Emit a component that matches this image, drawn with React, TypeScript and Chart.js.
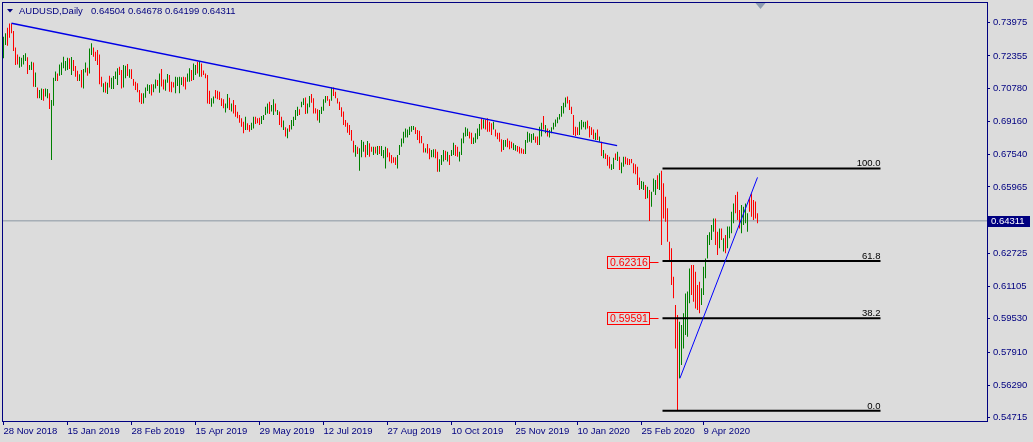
import React, { useEffect, useRef } from "react";
import { Chart, registerables } from "chart.js";

Chart.register(...registerables);

const W = 1033;
const H = 442;
const BG = "#dcdcdc";
const NAVY = "#000080";
const UP = "#008000";
const DOWN = "#ff0000";
const FONT = "'Liberation Sans', Arial, sans-serif";

// Daily AUDUSD bars (index 0 = 28 Nov 2018)
const highs = [
  0.7329, 0.7346, 0.7373, 0.7394, 0.7394, 0.7357, 0.7276, 0.7243, 0.7232, 0.7227,
  0.7240, 0.7248, 0.7229, 0.7191, 0.7207, 0.7203, 0.7155, 0.7081, 0.7069, 0.7077,
  0.7074, 0.7077, 0.7074, 0.7053, 0.7020, 0.7129, 0.7159, 0.7150, 0.7194, 0.7203,
  0.7232, 0.7211, 0.7227, 0.7224, 0.7230, 0.7216, 0.7186, 0.7163, 0.7146, 0.7167,
  0.7172, 0.7204, 0.7178, 0.7272, 0.7297, 0.7276, 0.7256, 0.7264, 0.7243, 0.7134,
  0.7102, 0.7110, 0.7105, 0.7139, 0.7129, 0.7137, 0.7159, 0.7175, 0.7183, 0.7167,
  0.7191, 0.7188, 0.7196, 0.7170, 0.7170, 0.7123, 0.7110, 0.7102, 0.7069, 0.7053,
  0.7053, 0.7081, 0.7097, 0.7094, 0.7097, 0.7097, 0.7121, 0.7118, 0.7150, 0.7172,
  0.7121, 0.7121, 0.7147, 0.7142, 0.7110, 0.7107, 0.7134, 0.7131, 0.7134, 0.7131,
  0.7134, 0.7131, 0.7150, 0.7175, 0.7167, 0.7199, 0.7191, 0.7207, 0.7207, 0.7199,
  0.7164, 0.7150, 0.7142, 0.7066, 0.7029, 0.7037, 0.7069, 0.7066, 0.7061, 0.7029,
  0.7024, 0.7004, 0.7050, 0.7032, 0.7004, 0.7020, 0.6996, 0.6963, 0.6947, 0.6931,
  0.6915, 0.6939, 0.6907, 0.6899, 0.6910, 0.6939, 0.6939, 0.6931, 0.6934, 0.6942,
  0.6947, 0.6988, 0.7004, 0.7012, 0.6996, 0.7024, 0.7004, 0.6972, 0.6964, 0.6939,
  0.6920, 0.6887, 0.6882, 0.6899, 0.6923, 0.6939, 0.6972, 0.6988, 0.6975, 0.7012,
  0.7029, 0.7033, 0.7004, 0.7040, 0.7050, 0.7029, 0.6980, 0.6975, 0.6972, 0.6988,
  0.7024, 0.7040, 0.7040, 0.7024, 0.7082, 0.7082, 0.7061, 0.7029, 0.7012, 0.6985,
  0.6964, 0.6923, 0.6910, 0.6899, 0.6874, 0.6822, 0.6801, 0.6793, 0.6785, 0.6825,
  0.6817, 0.6801, 0.6820, 0.6809, 0.6793, 0.6793, 0.6793, 0.6796, 0.6796, 0.6796,
  0.6777, 0.6793, 0.6785, 0.6764, 0.6752, 0.6741, 0.6741, 0.6752, 0.6801, 0.6833,
  0.6866, 0.6882, 0.6877, 0.6890, 0.6894, 0.6894, 0.6887, 0.6874, 0.6871, 0.6845,
  0.6809, 0.6785, 0.6806, 0.6785, 0.6777, 0.6780, 0.6780, 0.6768, 0.6731, 0.6752,
  0.6777, 0.6773, 0.6768, 0.6752, 0.6777, 0.6812, 0.6801, 0.6793, 0.6768, 0.6833,
  0.6861, 0.6887, 0.6882, 0.6866, 0.6861, 0.6837, 0.6858, 0.6882, 0.6903, 0.6931,
  0.6926, 0.6926, 0.6931, 0.6915, 0.6907, 0.6915, 0.6877, 0.6861, 0.6861, 0.6829,
  0.6825, 0.6825, 0.6833, 0.6822, 0.6817, 0.6809, 0.6801, 0.6796, 0.6793, 0.6785,
  0.6780, 0.6825, 0.6866, 0.6858, 0.6855, 0.6858, 0.6842, 0.6842, 0.6890, 0.6910,
  0.6942, 0.6899, 0.6882, 0.6874, 0.6887, 0.6910, 0.6926, 0.6936, 0.6952, 0.6991,
  0.7007, 0.7033, 0.7037, 0.7020, 0.6988, 0.6947, 0.6890, 0.6887, 0.6915, 0.6923,
  0.6915, 0.6915, 0.6920, 0.6894, 0.6887, 0.6877, 0.6861, 0.6877, 0.6842, 0.6817,
  0.6777, 0.6760, 0.6752, 0.6744, 0.6707, 0.6739, 0.6760, 0.6768, 0.6744, 0.6716,
  0.6744, 0.6744, 0.6736, 0.6733, 0.6733, 0.6712, 0.6707, 0.6695, 0.6642, 0.6625,
  0.6622, 0.6606, 0.6598, 0.6581, 0.6573, 0.6638, 0.6630, 0.6654, 0.6663, 0.6676,
  0.6614, 0.6549, 0.6492, 0.6329, 0.6297, 0.6159, 0.6021, 0.5972, 0.5939, 0.5923,
  0.5980, 0.6077, 0.6086, 0.6199, 0.6216, 0.6216, 0.6183, 0.6118, 0.6134, 0.6102,
  0.6207, 0.6248, 0.6362, 0.6375, 0.6411, 0.6443, 0.6443, 0.6378, 0.6394, 0.6394,
  0.6346, 0.6362, 0.6403, 0.6403, 0.6476, 0.6516, 0.6557, 0.6573, 0.6484, 0.6508,
  0.6500, 0.6516, 0.6468, 0.6541, 0.6565, 0.6533, 0.6525, 0.64678,
];

const lows = [
  0.7224, 0.7289, 0.7285, 0.7324, 0.7346, 0.7259, 0.7191, 0.7194, 0.7178, 0.7183,
  0.7194, 0.7211, 0.7147, 0.7167, 0.7167, 0.7085, 0.7084, 0.7029, 0.7029, 0.7020,
  0.7017, 0.7037, 0.7029, 0.6977, 0.6728, 0.6993, 0.7113, 0.7113, 0.7139, 0.7142,
  0.7175, 0.7163, 0.7167, 0.7172, 0.7142, 0.7162, 0.7134, 0.7113, 0.7113, 0.7081,
  0.7076, 0.7155, 0.7139, 0.7150, 0.7240, 0.7232, 0.7211, 0.7191, 0.7097, 0.7085,
  0.7058, 0.7056, 0.7050, 0.7081, 0.7074, 0.7074, 0.7123, 0.7094, 0.7142, 0.7077,
  0.7081, 0.7126, 0.7137, 0.7129, 0.7123, 0.7090, 0.7069, 0.7058, 0.7009, 0.7001,
  0.7004, 0.7032, 0.7064, 0.7051, 0.7042, 0.7058, 0.7077, 0.7089, 0.7056, 0.7086,
  0.7072, 0.7066, 0.7105, 0.7061, 0.7058, 0.7082, 0.7053, 0.7089, 0.7053, 0.7094,
  0.7086, 0.7072, 0.7110, 0.7110, 0.7113, 0.7118, 0.7142, 0.7150, 0.7134, 0.7134,
  0.7142, 0.7126, 0.7004, 0.7001, 0.6988, 0.7004, 0.7029, 0.7024, 0.7020, 0.6991,
  0.6980, 0.6959, 0.6980, 0.6972, 0.6964, 0.6955, 0.6939, 0.6931, 0.6910, 0.6890,
  0.6858, 0.6874, 0.6874, 0.6866, 0.6874, 0.6882, 0.6903, 0.6907, 0.6899, 0.6903,
  0.6923, 0.6947, 0.6955, 0.6952, 0.6964, 0.6947, 0.6964, 0.6947, 0.6899, 0.6887,
  0.6874, 0.6842, 0.6834, 0.6866, 0.6877, 0.6894, 0.6923, 0.6942, 0.6947, 0.6985,
  0.6996, 0.6952, 0.6955, 0.6985, 0.7007, 0.6955, 0.6955, 0.6920, 0.6910, 0.6952,
  0.6968, 0.7007, 0.7017, 0.6991, 0.7017, 0.7040, 0.7029, 0.7004, 0.6972, 0.6939,
  0.6898, 0.6890, 0.6861, 0.6850, 0.6822, 0.6764, 0.6744, 0.6757, 0.6676, 0.6741,
  0.6768, 0.6741, 0.6752, 0.6744, 0.6768, 0.6752, 0.6760, 0.6752, 0.6757, 0.6747,
  0.6736, 0.6687, 0.6741, 0.6720, 0.6712, 0.6715, 0.6703, 0.6687, 0.6752, 0.6793,
  0.6809, 0.6838, 0.6838, 0.6850, 0.6866, 0.6874, 0.6855, 0.6825, 0.6809, 0.6809,
  0.6764, 0.6764, 0.6760, 0.6731, 0.6741, 0.6741, 0.6736, 0.6671, 0.6671, 0.6703,
  0.6720, 0.6728, 0.6720, 0.6703, 0.6747, 0.6752, 0.6747, 0.6744, 0.6720, 0.6752,
  0.6809, 0.6842, 0.6845, 0.6833, 0.6806, 0.6806, 0.6812, 0.6829, 0.6845, 0.6877,
  0.6882, 0.6877, 0.6866, 0.6866, 0.6850, 0.6877, 0.6842, 0.6829, 0.6817, 0.6768,
  0.6777, 0.6793, 0.6790, 0.6780, 0.6785, 0.6777, 0.6773, 0.6768, 0.6760, 0.6760,
  0.6757, 0.6757, 0.6812, 0.6817, 0.6812, 0.6825, 0.6812, 0.6801, 0.6801, 0.6842,
  0.6877, 0.6858, 0.6842, 0.6838, 0.6858, 0.6877, 0.6890, 0.6907, 0.6926, 0.6939,
  0.6955, 0.6985, 0.7004, 0.6972, 0.6952, 0.6850, 0.6845, 0.6850, 0.6850, 0.6877,
  0.6887, 0.6877, 0.6882, 0.6838, 0.6850, 0.6829, 0.6825, 0.6825, 0.6817, 0.6747,
  0.6736, 0.6733, 0.6700, 0.6687, 0.6679, 0.6684, 0.6728, 0.6723, 0.6679, 0.6663,
  0.6695, 0.6707, 0.6703, 0.6703, 0.6712, 0.6663, 0.6658, 0.6606, 0.6581, 0.6586,
  0.6581, 0.6538, 0.6541, 0.6430, 0.6500, 0.6573, 0.6557, 0.6586, 0.6581, 0.6313,
  0.6443, 0.6427, 0.6329, 0.6232, 0.6118, 0.6053, 0.5809, 0.5508, 0.5663, 0.5728,
  0.5809, 0.5874, 0.5866, 0.6029, 0.6069, 0.6037, 0.6004, 0.5996, 0.5980, 0.6021,
  0.6069, 0.6151, 0.6248, 0.6313, 0.6338, 0.6378, 0.6313, 0.6264, 0.6297, 0.6338,
  0.6281, 0.6273, 0.6297, 0.6346, 0.6370, 0.6419, 0.6468, 0.6435, 0.6394, 0.6370,
  0.6411, 0.6419, 0.6378, 0.6476, 0.6451, 0.6435, 0.6443, 0.64199,
];

// G = bull bar (close > open), R = bear bar
const barDirection = [
  "GGRRRRRRGG", "GGRGGRGRGG", "RGGRGGGRGG", "GGGRGRRRGR", "GGRGGRRRRR",
  "GRGRGGGGRR", "GGRGRRRRRR", "GGGGRGGRGR", "RGGRRRGGGG", "RRGGRGGRGR",
  "RRRRGGRRRR", "RGGRGRRRRR", "RGRRGGRRRG", "GGGRGGRGRR", "GRGRGGGGRG",
  "GRGGRRRRGG", "GGRRGRRRRR", "RRRRRRGRGG", "GRGRRGRGRG", "GGRRRRRGGG",
  "GGGGGGRRRR", "RGRRGGRRGG", "GRGRGGRRGG", "GGGRRGGGGR", "GRRRRGRRRR",
  "GGRRRGGRRR", "RGGGGGRRGG", "RGRGGGGGGG", "GGRRRRRRGG", "GGRRRRGRGR",
  "GRRRGGRGRG", "GRRRRRRRRG", "GRGRGGGRGR", "RRRRRRRRGG", "GGGGRRRRRG",
  "GGGGGGRRGR", "GRGGGGRRRG", "GGGRRRRR",
].join("");

const xTickIndex = [0, 32, 64, 96, 128, 160, 192, 224, 256, 287, 319, 350];
const xTickLabels = [
  "28 Nov 2018", "15 Jan 2019", "28 Feb 2019", "15 Apr 2019", "29 May 2019", "12 Jul 2019",
  "27 Aug 2019", "10 Oct 2019", "25 Nov 2019", "10 Jan 2020", "25 Feb 2020", "9 Apr 2020",
];
const yTickValues = [
  0.73975, 0.72355, 0.7078, 0.6916, 0.6754, 0.65965, 0.62725, 0.61105, 0.5953, 0.5791,
  0.5629, 0.54715,
];
const yMin = 0.54549;
const yMax = 0.74936;
const xMin = -0.25;
const xMax = 491.75;

const titleSymbol = "AUDUSD,Daily";
const titleOHLC = "0.64504 0.64678 0.64199 0.64311";
const currentPrice = 0.64311;

const trendDown = [
  { x: 4, y: 0.7395 },
  { x: 306.8, y: 0.6798 },
];
const trendUp = [
  { x: 338.2, y: 0.5663 },
  { x: 377, y: 0.6643 },
];

const fibHigh = 0.6687;
const fibLow = 0.5505;
const fibLevels = [100.0, 61.8, 38.2, 0.0];
const fibStart = 329.5;
const fibEnd = 438.5;

const priceTags = [
  { text: "0.62316", value: 0.62316 },
  { text: "0.59591", value: 0.59591 },
];

const zeroPadding = (s: any) => {
  s.paddingTop = 0;
  s.paddingBottom = 0;
  s.paddingLeft = 0;
  s.paddingRight = 0;
};

export default function App() {
  const ref = useRef<HTMLCanvasElement>(null);

  useEffect(() => {
    document.body.style.margin = "0";
    document.body.style.background = BG;
    const canvas = ref.current;
    if (!canvas) return;

    const bars = highs.map((h, i) => ({ x: i, y: [lows[i], h] }));
    const colors = highs.map((_, i) => (barDirection[i] === "G" ? UP : DOWN));
    const fibValues = fibLevels.map((l) => fibLow + ((fibHigh - fibLow) * l) / 100);

    const lineBase = {
      type: "line" as const,
      pointRadius: 0,
      pointHoverRadius: 0,
      fill: false,
      tension: 0,
    };

    const datasets: any[] = [
      {
        ...lineBase,
        data: [
          { x: xMin, y: currentPrice },
          { x: xMax, y: currentPrice },
        ],
        borderColor: "#8a96a2",
        borderWidth: 1,
        order: 5,
      },
      {
        type: "bar",
        data: bars,
        backgroundColor: colors,
        borderWidth: 0,
        barThickness: 1,
        inflateAmount: 0,
        order: 3,
      },
      ...fibValues.map((v) => ({
        ...lineBase,
        data: [
          { x: fibStart, y: v },
          { x: fibEnd, y: v },
        ],
        borderColor: "#000000",
        borderWidth: 2,
        order: 2,
      })),
      {
        ...lineBase,
        data: trendDown,
        borderColor: "#0000e6",
        borderWidth: 1.5,
        order: 1,
      },
      {
        ...lineBase,
        data: trendUp,
        borderColor: "#0000ff",
        borderWidth: 1,
        order: 1,
      },
    ];

    const overlay = {
      id: "overlay",
      beforeDraw(chart: any) {
        const ctx = chart.ctx;
        ctx.save();
        ctx.fillStyle = BG;
        ctx.fillRect(0, 0, chart.width, chart.height);
        ctx.restore();
      },
      afterDraw(chart: any) {
        const ctx = chart.ctx;
        const a = chart.chartArea;
        const xs = chart.scales.x;
        const ys = chart.scales.y;
        ctx.save();

        // frame
        ctx.strokeStyle = NAVY;
        ctx.lineWidth = 1;
        ctx.strokeRect(a.left - 0.5, a.top - 0.5, a.right - a.left + 1, a.bottom - a.top + 1);

        // title
        ctx.fillStyle = NAVY;
        ctx.beginPath();
        ctx.moveTo(7, 9);
        ctx.lineTo(13, 9);
        ctx.lineTo(10, 12.5);
        ctx.closePath();
        ctx.fill();
        ctx.font = `9.5px ${FONT}`;
        ctx.textBaseline = "alphabetic";
        ctx.textAlign = "left";
        ctx.fillText(titleSymbol, 19, 14);
        ctx.fillText(titleOHLC, 91, 14);

        // fibo level texts
        ctx.fillStyle = "#000000";
        ctx.textAlign = "right";
        const xe = xs.getPixelForValue(fibEnd);
        fibValues.forEach((v, i) => {
          const y = ys.getPixelForValue(v);
          ctx.fillText(fibLevels[i].toFixed(1), xe, y - 2);
        });

        // red price tags
        const xsStart = xs.getPixelForValue(fibStart);
        ctx.font = `10.5px ${FONT}`;
        ctx.textAlign = "left";
        ctx.textBaseline = "middle";
        priceTags.forEach((t) => {
          const y = Math.round(ys.getPixelForValue(t.value)) + 0.5;
          const right = Math.round(xsStart - 14) + 0.5;
          const tw = ctx.measureText(t.text).width;
          const left = Math.round(right - tw - 5) + 0.5;
          ctx.fillStyle = BG;
          ctx.fillRect(left, y - 6, right - left, 12);
          ctx.strokeStyle = DOWN;
          ctx.lineWidth = 1;
          ctx.strokeRect(left, y - 6, right - left, 12);
          ctx.beginPath();
          ctx.moveTo(right, y);
          ctx.lineTo(right + 9, y);
          ctx.stroke();
          ctx.fillStyle = DOWN;
          ctx.fillText(t.text, left + 2.5, y + 0.5);
        });

        // current price tag on the axis
        const yp = ys.getPixelForValue(currentPrice);
        ctx.fillStyle = NAVY;
        ctx.fillRect(a.right + 1, Math.round(yp) - 5, 42, 11);
        ctx.fillStyle = "#ffffff";
        ctx.font = `9.5px ${FONT}`;
        ctx.fillText(currentPrice.toFixed(5), a.right + 4, Math.round(yp) + 0.5);

        // chart shift marker
        const xm = xs.getPixelForValue(378.5);
        ctx.fillStyle = "#8c9cb0";
        ctx.beginPath();
        ctx.moveTo(xm - 5, a.top);
        ctx.lineTo(xm + 5, a.top);
        ctx.lineTo(xm, a.top + 6);
        ctx.closePath();
        ctx.fill();

        ctx.restore();
      },
    };

    const chart = new Chart(canvas, {
      type: "bar",
      data: { datasets },
      options: {
        animation: false,
        responsive: false,
        devicePixelRatio: 1,
        events: [],
        layout: { padding: { left: 3, top: 3, right: 0, bottom: 0 } },
        plugins: {
          legend: { display: false },
          tooltip: { enabled: false },
        },
        scales: {
          x: {
            type: "linear",
            position: "bottom",
            min: xMin,
            max: xMax,
            offset: false,
            border: { display: false },
            grid: {
              offset: false,
              drawOnChartArea: false,
              drawTicks: true,
              tickLength: 4,
              color: NAVY,
            },
            ticks: {
              autoSkip: false,
              maxRotation: 0,
              minRotation: 0,
              align: "start",
              padding: 1,
              color: NAVY,
              font: { family: FONT, size: 9.5 },
              callback: (_v: any, i: number) => xTickLabels[i],
            },
            afterBuildTicks: (s: any) => {
              s.ticks = xTickIndex.map((v) => ({ value: v }));
            },
            afterFit: (s: any) => {
              s.height = 21;
              zeroPadding(s);
            },
          },
          y: {
            type: "linear",
            position: "right",
            min: yMin,
            max: yMax,
            border: { display: false },
            grid: {
              drawOnChartArea: false,
              drawTicks: true,
              tickLength: 3,
              color: NAVY,
            },
            ticks: {
              autoSkip: false,
              padding: 3,
              color: NAVY,
              font: { family: FONT, size: 9.5 },
              callback: (v: any) => Number(v).toFixed(5),
            },
            afterBuildTicks: (s: any) => {
              s.ticks = yTickValues.map((v) => ({ value: v }));
            },
            afterFit: (s: any) => {
              s.width = 46;
              zeroPadding(s);
            },
          },
        },
      } as any,
      plugins: [overlay],
    });

    return () => chart.destroy();
  }, []);

  return (
    <canvas
      ref={ref}
      width={W}
      height={H}
      style={{ display: "block", width: W, height: H }}
    />
  );
}
